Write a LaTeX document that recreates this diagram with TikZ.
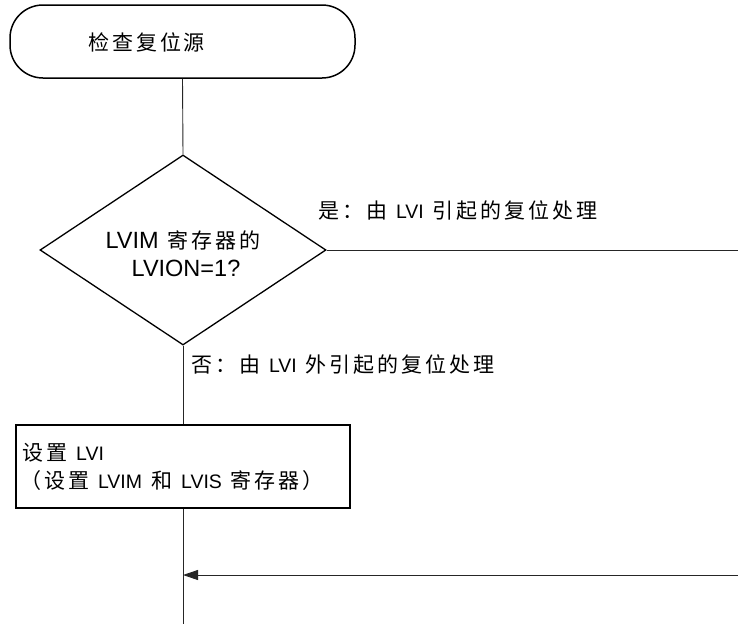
\documentclass[tikz,border=0pt]{standalone}
\usepackage{fontspec}
\setmainfont{Liberation Sans}
\newfontfamily\cjk[LetterSpace=14]{Noto Sans CJK SC}
\newcommand{\zh}[1]{{\cjk\fontsize{21}{23}\selectfont #1}}
\newcommand{\gapz}{\hspace{9pt}}
\usetikzlibrary{shapes.geometric,arrows.meta}
\begin{document}
\begin{tikzpicture}[x=1pt,y=-1pt,
  txt/.style={font=\fontsize{19.5}{24}\selectfont, inner sep=0pt},
  dtxt/.style={font=\fontsize{23.5}{28}\selectfont, inner sep=0pt, anchor=base},
  flow/.style={line width=0.9pt, draw=black!85},
  term/.style={draw, line width=1.5pt, rounded corners=33pt, minimum width=345pt, minimum height=73pt, inner sep=0pt},
  decision/.style={diamond, draw, line width=1.3pt, minimum width=286pt, minimum height=190pt, inner sep=0pt},
  procbox/.style={draw, line width=1.8pt, minimum width=334pt, minimum height=83pt, inner sep=0pt}
]
\useasboundingbox (0,0) rectangle (738,624);
\node[term] (start) at (182.5,41.5) {};
\node[txt, anchor=west] (starttxt) at (88,42) {\zh{检查复位源}};
\node[decision] (dec) at (183,250) {};
\node[dtxt] (dectxt1) at (183,248) {LVIM\gapz\zh{寄存器的}};
\node[dtxt] (dectxt2) at (186,276) {LVION=1?};
\node[procbox] (box) at (183,466.5) {};
\node[txt, anchor=west] (boxt1) at (22,453) {\zh{设置}\gapz LVI};
\node[txt, anchor=west] (boxt2) at (20,481) {\zh{（设置}\gapz LVIM\gapz\zh{和}\gapz LVIS\gapz\zh{寄存器）}};
\node[txt, anchor=west] (yes) at (318,211) {\zh{是：由}\gapz LVI\gapz\zh{引起的复位处理}};
\node[txt, anchor=west] (no) at (191,365) {\zh{否：由}\gapz LVI\gapz\zh{外引起的复位处理}};
\coordinate (yesend) at (738,250);
\coordinate (join) at (183,575);
\coordinate (retin) at (738,575);
\coordinate (bottom) at (183,624);
\draw[flow] (start.south) -- (dec.north);
\draw[flow] (dec.east) -- (yesend);
\draw[flow] (dec.south) -- (box.north);
\draw[flow] (box.south) -- (bottom);
\draw[flow, -{Triangle[length=15pt,width=10pt]}] (retin) -- (join);
\end{tikzpicture}
\end{document}
